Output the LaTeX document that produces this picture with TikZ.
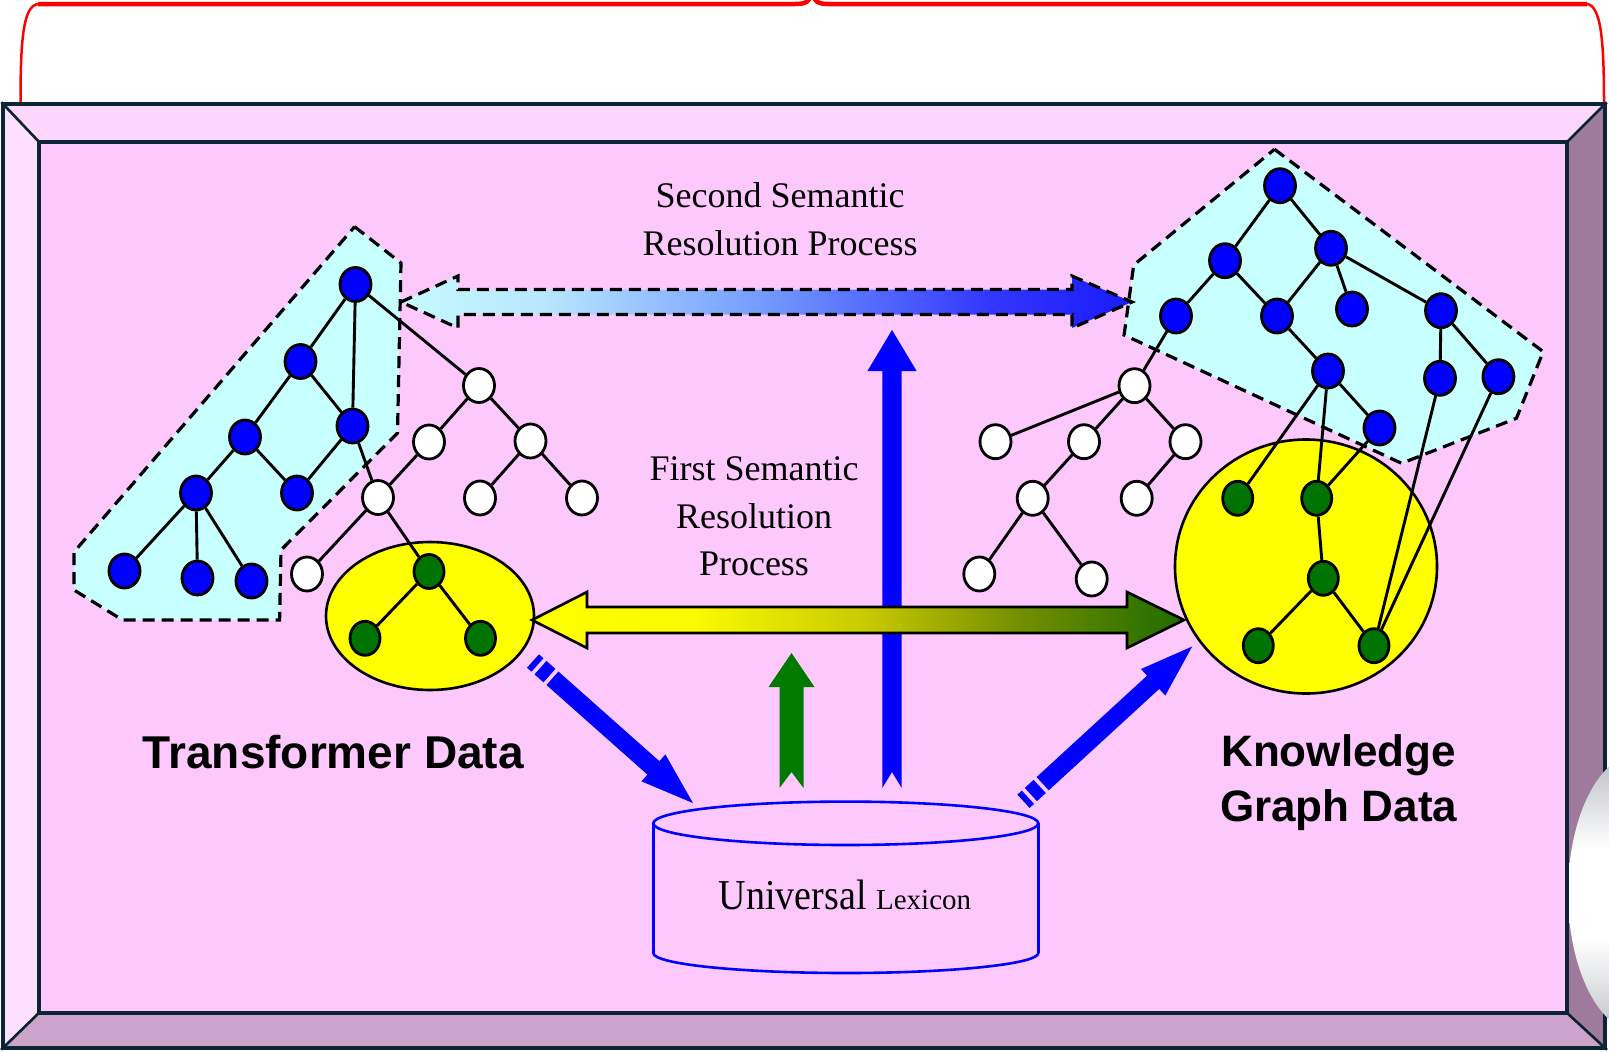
\documentclass[tikz,border=0pt]{standalone}
\usepackage{fontspec}
\setmainfont{Liberation Serif}
\newfontfamily\labelsans{Liberation Sans}
\usetikzlibrary{shapes.geometric,calc}
\definecolor{pinkmain}{RGB}{253,201,253}
\definecolor{bevtop}{RGB}{253,213,253}
\definecolor{bevleft}{RGB}{254,224,254}
\definecolor{bevright}{RGB}{158,123,156}
\definecolor{bevbot}{RGB}{204,164,203}
\definecolor{framec}{RGB}{11,37,53}
\definecolor{cyanbg}{RGB}{200,255,255}
\definecolor{gnode}{RGB}{0,115,0}
\definecolor{garrow}{RGB}{0,122,0}
\definecolor{pureblue}{RGB}{0,0,255}
\definecolor{brightyellow}{RGB}{255,255,0}
\definecolor{silver}{RGB}{165,172,176}
\pgfdeclarehorizontalshading{ygshade}{100bp}{rgb(0bp)=(1,1,0); rgb(25bp)=(1,1,0); rgb(37.5bp)=(0.98,0.98,0); rgb(50bp)=(0.8,0.8,0); rgb(62.5bp)=(0.45,0.56,0); rgb(75bp)=(0.12,0.42,0); rgb(100bp)=(0.12,0.42,0)}
\pgfdeclarehorizontalshading{cbshade}{100bp}{rgb(0bp)=(0.78,0.98,1); rgb(25bp)=(0.78,0.98,1); rgb(35bp)=(0.72,0.9,1); rgb(50bp)=(0.45,0.6,1); rgb(65bp)=(0.2,0.22,1); rgb(75bp)=(0.1,0.1,1); rgb(100bp)=(0.1,0.1,1)}
\pgfdeclareverticalshading{discshade}{100bp}{color(0bp)=(silver); color(25bp)=(silver!70); color(42bp)=(white); color(58bp)=(white); color(75bp)=(silver!80); color(100bp)=(silver)}
\newcommand{\stripedarrow}[3]{%
\begin{scope}[shift={#1}, rotate=#2]
 \fill[pureblue] (0,-9) rectangle (6,9);
 \fill[pureblue] (10,-9) rectangle (22,9);
 \fill[pureblue] (26,-9) -- (#3-53,-9) -- (#3-53,-18) -- (#3,0) -- (#3-53,18) -- (#3-53,9) -- (26,9) -- cycle;
\end{scope}}
\begin{document}
\begin{tikzpicture}[x=1pt,y=-1pt,
  bnode/.style={ellipse, draw=black, line width=2.8pt, fill=pureblue, minimum width=31pt, minimum height=34pt, inner sep=0pt},
  wnode/.style={bnode, fill=white},
  gnodest/.style={bnode, fill=gnode, minimum width=30pt},
  edge/.style={draw=black, line width=2.9pt},
  region/.style={fill=cyanbg, draw=black, line width=3.2pt, dash pattern=on 12pt off 7pt},
  serif36/.style={anchor=base, inner sep=0pt, font=\fontsize{36}{36}\selectfont},
  bigsans/.style={anchor=base, inner sep=0pt, font=\labelsans\bfseries\fontsize{44}{44}\selectfont}]
\useasboundingbox (0,0) rectangle (1609,1052);
\fill[white] (0,0) rectangle (1609,1052);

% red brace
\draw[red, line width=2.5pt] (20.5,104) .. controls (20.5,40) and (23,6) .. (38,4);
\draw[red, line width=4.5pt] (38,4) -- (795,4) .. controls (806,4) and (810,2) .. (812,-8);
\draw[red, line width=4.5pt] (812,-8) .. controls (814,2) and (818,4) .. (829,4) -- (1587,4);
\draw[red, line width=2.5pt] (1587,4) .. controls (1601,6) and (1604,40) .. (1604,104);

% frame
\fill[pinkmain] (39,142) rectangle (1567,1013);
\draw[framec, line width=2.5pt, fill=bevtop] (3,104) -- (1605,104) -- (1567,142) -- (39,142) -- cycle;
\draw[framec, line width=2.5pt, fill=bevleft] (3,104) -- (39,142) -- (39,1013) -- (3,1048) -- cycle;
\draw[framec, line width=2.5pt, fill=bevright] (1605,104) -- (1605,1048) -- (1567,1013) -- (1567,142) -- cycle;
\draw[framec, line width=2.5pt, fill=bevbot] (3,1048) -- (39,1013) -- (1567,1013) -- (1605,1048) -- cycle;
\draw[framec, line width=4pt] (39,142) rectangle (1567,1013);
\draw[framec, line width=4.5pt] (3,104) rectangle (1605,1048);

% silver disc at the right edge
\begin{scope}
\clip (1569.5,104) rectangle (1609,1052);
\shade[shading=discshade] (1640,893) ellipse [x radius=72, y radius=140];
\end{scope}

% dashed cyan regions
\path[region] (354.6,226.7) -- (401,263) -- (397.5,433) -- (281,550) -- (279.6,620) -- (122.5,620) -- (74,590) -- (74,552) -- cycle;
\path[region] (1274.5,149.3) -- (1543.2,351.7) -- (1516.4,418.3) -- (1401.6,463.3) -- (1124.1,335) -- (1133.7,265) -- cycle;

% second semantic resolution arrow
\shadedraw[shading=cbshade, draw=black, line width=3.2pt, dash pattern=on 12pt off 7pt]
  (401,302) -- (458,276) -- (458,289.5) -- (1072,289.5) -- (1072,276) -- (1132,302) -- (1072,328) -- (1072,314.5) -- (458,314.5) -- (458,328) -- cycle;

% yellow groups
\node[ellipse, draw=black, line width=2.6pt, fill=brightyellow, minimum width=208pt, minimum height=148pt, inner sep=0pt] (lgroup) at (430,616) {};
\node[ellipse, draw=black, line width=2.6pt, fill=brightyellow, minimum width=262pt, minimum height=254pt, inner sep=0pt] (rgroup) at (1306,566.5) {};

% left tree nodes
\node[bnode] (b1) at (355.5,284.5) {};
\node[bnode] (b2) at (300.5,361.5) {};
\node[bnode] (b3) at (352.5,426) {};
\node[bnode] (b4) at (245,437) {};
\node[bnode] (b5) at (297,493) {};
\node[bnode] (b6) at (196,493) {};
\node[bnode] (b7) at (124.5,571) {};
\node[bnode] (b8) at (197.5,578) {};
\node[bnode] (b9) at (251.5,581) {};
\node[wnode] (w1) at (479,385.5) {};
\node[wnode] (w2) at (429,442) {};
\node[wnode] (w3) at (530.5,441) {};
\node[wnode] (w4) at (378,497.5) {};
\node[wnode] (w5) at (480,498) {};
\node[wnode] (w6) at (582,498) {};
\node[wnode] (w7) at (307,574) {};
\node[gnodest] (g1) at (429,571.5) {};
\node[gnodest] (g2) at (365,638.3) {};
\node[gnodest] (g3) at (480.5,638.3) {};

% right tree nodes
\node[bnode] (r1) at (1280,185.7) {};
\node[bnode] (r2) at (1225,260.7) {};
\node[bnode] (r3) at (1331,248.3) {};
\node[bnode] (r4) at (1176,316) {};
\node[bnode] (r5) at (1277,316) {};
\node[bnode] (r6) at (1352,309) {};
\node[bnode] (r7) at (1441,310.7) {};
\node[bnode] (r8) at (1328,371) {};
\node[bnode] (r9) at (1440,378.3) {};
\node[bnode] (r10) at (1498.4,376.7) {};
\node[bnode] (r11) at (1379.5,428) {};
\node[wnode] (rw1) at (1134.5,385.7) {};
\node[wnode] (rw2) at (995.5,441.7) {};
\node[wnode] (rw3) at (1084,441.7) {};
\node[wnode] (rw4) at (1185.5,441.7) {};
\node[wnode] (rw5) at (1032.7,498.3) {};
\node[wnode] (rw6) at (1136.7,498.3) {};
\node[wnode] (rw7) at (979.3,574) {};
\node[wnode] (rw8) at (1091.7,579) {};
\node[gnodest] (rg1) at (1237.7,498.3) {};
\node[gnodest] (rg2) at (1316.7,498.3) {};
\node[gnodest] (rg3) at (1323.3,578.3) {};
\node[gnodest] (rg4) at (1258.3,645.7) {};
\node[gnodest] (rg5) at (1374,645.7) {};

% left tree edges
\foreach \a/\b in {b1/b2, b1/b3, b1/w1, b2/b4, b2/b3, b4/b6, b4/b5, b3/b5, b3/w4, b6/b7, b6/b8, b6/b9, w1/w2, w1/w3, w2/w4, w3/w5, w3/w6, w4/w7, w4/g1, g1/g2, g1/g3}
  \draw[edge] (\a) -- (\b);
% right tree edges
\foreach \a/\b in {r1/r2, r1/r3, r2/r4, r2/r5, r3/r5, r3/r6, r3/r7, r5/r8, r8/r11, r7/r9, r7/r10, r4/rw1, rw1/rw2, rw1/rw3, rw1/rw4, rw3/rw5, rw4/rw6, rw5/rw7, rw5/rw8, r8/rg1, r8/rg2, r11/rg2, rg2/rg3, rg3/rg4, rg3/rg5, rg5/r9, rg5/r10}
  \draw[edge] (\a) -- (\b);

% vertical arrows
\fill[pureblue] (892,330) -- (916.6,371) -- (901.7,371) -- (901.7,788) -- (892,772) -- (882.3,788) -- (882.3,371) -- (867.4,371) -- cycle;
\fill[garrow] (791.5,653) -- (814.5,687) -- (803.5,687) -- (803.5,788) -- (791.5,772) -- (779.5,788) -- (779.5,687) -- (768.5,687) -- cycle;

% first semantic resolution double arrow
\shadedraw[shading=ygshade, draw=black, line width=2.6pt]
  (532,620) -- (587,592) -- (587,607) -- (1127,607) -- (1127,592) -- (1184,620) -- (1127,648) -- (1127,633) -- (587,633) -- (587,648) -- cycle;

% diagonal striped arrows
\stripedarrow{(533,661)}{-41.6}{214}
\stripedarrow{(1023.5,801.3)}{42.55}{229}

% universal lexicon cylinder
\draw[pureblue, line width=2.6pt] (653.3,823.3) -- (653.3,953);
\draw[pureblue, line width=2.6pt] (1038.3,823.3) -- (1038.3,953);
\begin{scope}
\clip (640,953) rectangle (1050,990);
\draw[pureblue, line width=2.6pt] (845.8,953) ellipse [x radius=192.5, y radius=20];
\end{scope}
\draw[pureblue, line width=2.6pt] (845.8,823.3) ellipse [x radius=192.5, y radius=21.7];
\node[anchor=base, inner sep=0pt] (lex) at (845,909) {\fontsize{38}{38}\selectfont\scalebox{1}[1.12]{Universal}\ {\fontsize{29}{29}\selectfont Lexicon}};

% texts
\node[serif36] (sec1) at (780,207) {Second Semantic};
\node[serif36] (sec2) at (780,255) {Resolution Process};
\node[serif36] (fir1) at (754,480) {First Semantic};
\node[serif36] (fir2) at (754,528) {Resolution};
\node[serif36] (fir3) at (754,575) {Process};
\node[bigsans, font=\labelsans\bfseries\fontsize{46}{46}\selectfont] (tdata) at (333.4,768) {Transformer Data};
\node[bigsans] (kg1) at (1338.6,766.7) {Knowledge};
\node[bigsans] (kg2) at (1338.6,821.7) {Graph Data};
\end{tikzpicture}
\end{document}
